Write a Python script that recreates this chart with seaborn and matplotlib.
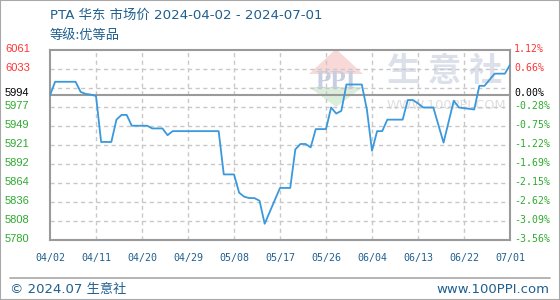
import numpy as np
import pandas as pd
import seaborn as sns
import matplotlib
matplotlib.use("Agg")
import matplotlib.pyplot as plt
import matplotlib.transforms as mtransforms
from matplotlib.patches import Polygon, Rectangle
from matplotlib.lines import Line2D

# ---------------- data ----------------
title = "PTA 华东 市场价 2024-04-02 - 2024-07-01"
subtitle = "等级:优等品"
footer_left = "© 2024.07 生意社"
footer_right = "www.100PPI.com"

dates = ["2024-04-02", "2024-04-03", "2024-04-07", "2024-04-08", "2024-04-09",
         "2024-04-10", "2024-04-11", "2024-04-12", "2024-04-14", "2024-04-15",
         "2024-04-16", "2024-04-17", "2024-04-18", "2024-04-21", "2024-04-22",
         "2024-04-24", "2024-04-25", "2024-04-26", "2024-05-05", "2024-05-06",
         "2024-05-08", "2024-05-09", "2024-05-10", "2024-05-11", "2024-05-12",
         "2024-05-13", "2024-05-14", "2024-05-17", "2024-05-19", "2024-05-20",
         "2024-05-21", "2024-05-22", "2024-05-23", "2024-05-24", "2024-05-26",
         "2024-05-27", "2024-05-28", "2024-05-29", "2024-05-30", "2024-06-02",
         "2024-06-03", "2024-06-04", "2024-06-05", "2024-06-06", "2024-06-07",
         "2024-06-10", "2024-06-11", "2024-06-12", "2024-06-13", "2024-06-14",
         "2024-06-16", "2024-06-17", "2024-06-18", "2024-06-20", "2024-06-21",
         "2024-06-24", "2024-06-25", "2024-06-26", "2024-06-28", "2024-06-30",
         "2024-07-01"]
prices = [5994, 6014, 6014, 5999, 5996,
          5995, 5993, 5925, 5925, 5958,
          5965, 5965, 5949, 5949, 5945,
          5945, 5935, 5941, 5941, 5877,
          5877, 5850, 5844, 5842, 5842,
          5838, 5804, 5857, 5857, 5914,
          5922, 5922, 5917, 5944, 5944,
          5976, 5967, 5971, 6010, 6010,
          5973, 5912, 5941, 5941, 5958,
          5958, 5987, 5987, 5982, 5976,
          5976, 5950, 5924, 5986, 5976,
          5973, 6008, 6008, 6026, 6026,
          6039]

base_price = 5994
y_min, y_max = 5780, 6061
left_labels = ["6061", "6033", "5994", "5977", "5949", "5921",
               "5892", "5864", "5836", "5808", "5780"]
right_labels = ["1.12%", "0.66%", "0.00%", "-0.28%", "-0.75%", "-1.22%",
                "-1.69%", "-2.15%", "-2.62%", "-3.09%", "-3.56%"]
x_tick_dates = ["2024-04-02", "2024-04-11", "2024-04-20", "2024-04-29",
                "2024-05-08", "2024-05-17", "2024-05-26", "2024-06-04",
                "2024-06-13", "2024-06-22", "2024-07-01"]
x_tick_labels = ["04/02", "04/11", "04/20", "04/29", "05/08", "05/17",
                 "05/26", "06/04", "06/13", "06/22", "07/01"]

# ---------------- style ----------------
sns.set_style("white")
plt.rcParams["font.family"] = ["Noto Sans CJK SC", "DejaVu Sans"]
MIXED = ["DejaVu Sans", "Noto Sans CJK SC"]

BLUE_TXT = "#1f5f8f"
LINE_C = "#3a98dc"
GRID_C = "#c8c8c8"
FRAME_C = "#9a9a9a"
RED = "#ff3333"
GREEN = "#2eaa2e"

W, H = 560, 300
fig = plt.figure(figsize=(W / 100, H / 100), dpi=100)
fig.patch.set_facecolor("white")
ax = fig.add_axes([50 / W, 60 / H, 460 / W, 190 / H])

df = pd.DataFrame({"date": pd.to_datetime(dates), "price": prices})
sns.lineplot(data=df, x="date", y="price", ax=ax, color=LINE_C, lw=1.3, zorder=4)

xt = pd.to_datetime(x_tick_dates)
ax.set_xlim(xt[0], xt[-1])
ax.set_ylim(y_min, y_max)
ax.set_xlabel("")
ax.set_ylabel("")

# grid
for lv in np.linspace(y_min, y_max, 11)[1:-1]:
    ax.axhline(lv, color=GRID_C, lw=1, ls=(0, (3, 2.5)), zorder=1)
for t in xt[1:-1]:
    ax.axvline(t, color=GRID_C, lw=1, ls=(0, (3, 2.5)), zorder=1)
ax.axhline(base_price, color=FRAME_C, lw=1.5, zorder=2)

for s in ax.spines.values():
    s.set_color(FRAME_C)
    s.set_linewidth(1.5)
    s.set_visible(True)

ax.set_xticks(xt)
ax.set_xticklabels(x_tick_labels, fontfamily="DejaVu Sans Mono", fontsize=7.2,
                   color=BLUE_TXT)
ax.tick_params(axis="x", length=0, pad=9)
ax.set_yticks([])

def label_color(v):
    return RED if v > base_price else ("black" if v == base_price else GREEN)

tf = fig.transFigure
blend = mtransforms.blended_transform_factory(tf, ax.transData)
up_small = blend + mtransforms.ScaledTranslation(0, 0.8 / 100, fig.dpi_scale_trans)
up_base = blend + mtransforms.ScaledTranslation(0, 2.5 / 100, fig.dpi_scale_trans)

for lt, rt in zip(left_labels, right_labels):
    v = float(lt)
    trans = up_base if v == base_price else up_small
    c = label_color(v)
    ax.text(5 / W, v, lt, transform=trans, ha="left", va="center",
            fontsize=8, family="Liberation Sans", color=c, clip_on=False)
    ax.text(514 / W, v, rt, transform=trans, ha="left", va="center",
            fontsize=7.1, family="DejaVu Sans Mono", color=c, clip_on=False)

# watermark
def fx(x):
    return x / W
def fy(y):
    return 1 - y / H

ax.add_patch(Polygon([[fx(309), fy(74)], [fx(363), fy(74)], [fx(336), fy(49)]],
                     closed=True, transform=tf, facecolor="#f9d8d8",
                     edgecolor="none", zorder=0.5))
ax.add_patch(Polygon([[fx(309), fy(87)], [fx(363), fy(87)], [fx(336), fy(107)]],
                     closed=True, transform=tf, facecolor="#dbeedb",
                     edgecolor="none", zorder=0.5))
ax.text(fx(336), fy(81), "PPI", transform=tf, ha="center", va="center",
        fontsize=18, fontweight="bold", color="#c6cee0", family="Liberation Serif",
        zorder=0.6)
ax.text(fx(445), fy(72), "生 意 社", transform=tf, ha="center", va="center",
        fontsize=24, fontweight="bold", color="#dce0ea", zorder=0.6)
ax.text(fx(446), fy(106), "WWW.100PPI.COM", transform=tf, ha="center",
        va="center", fontsize=9.3, color="#dedede", family="DejaVu Sans",
        zorder=0.6)

# titles
fig.text(fx(50), fy(15.5), title, ha="left", va="center", fontsize=9.6,
         color=BLUE_TXT, family=MIXED)
fig.text(fx(50), fy(35.5), subtitle, ha="left", va="center", fontsize=9.5,
         color=BLUE_TXT)

# footer
fig.add_artist(Line2D([fx(10), fx(550)], [fy(277.5), fy(277.5)], transform=tf,
                      color="#a8a8a8", lw=1.2))
fig.text(fx(10), fy(289.5), footer_left, ha="left", va="center", fontsize=9.5,
         color=BLUE_TXT, family=MIXED)
fig.text(fx(549), fy(289.5), footer_right, ha="right", va="center", fontsize=9.5,
         color=BLUE_TXT, family="DejaVu Sans")

fig.add_artist(Rectangle((0, 0), 1, 1, transform=tf, fill=False,
                         edgecolor="#a8a8a8", lw=1.5))

fig.savefig("out.png", dpi=100, facecolor="white")
